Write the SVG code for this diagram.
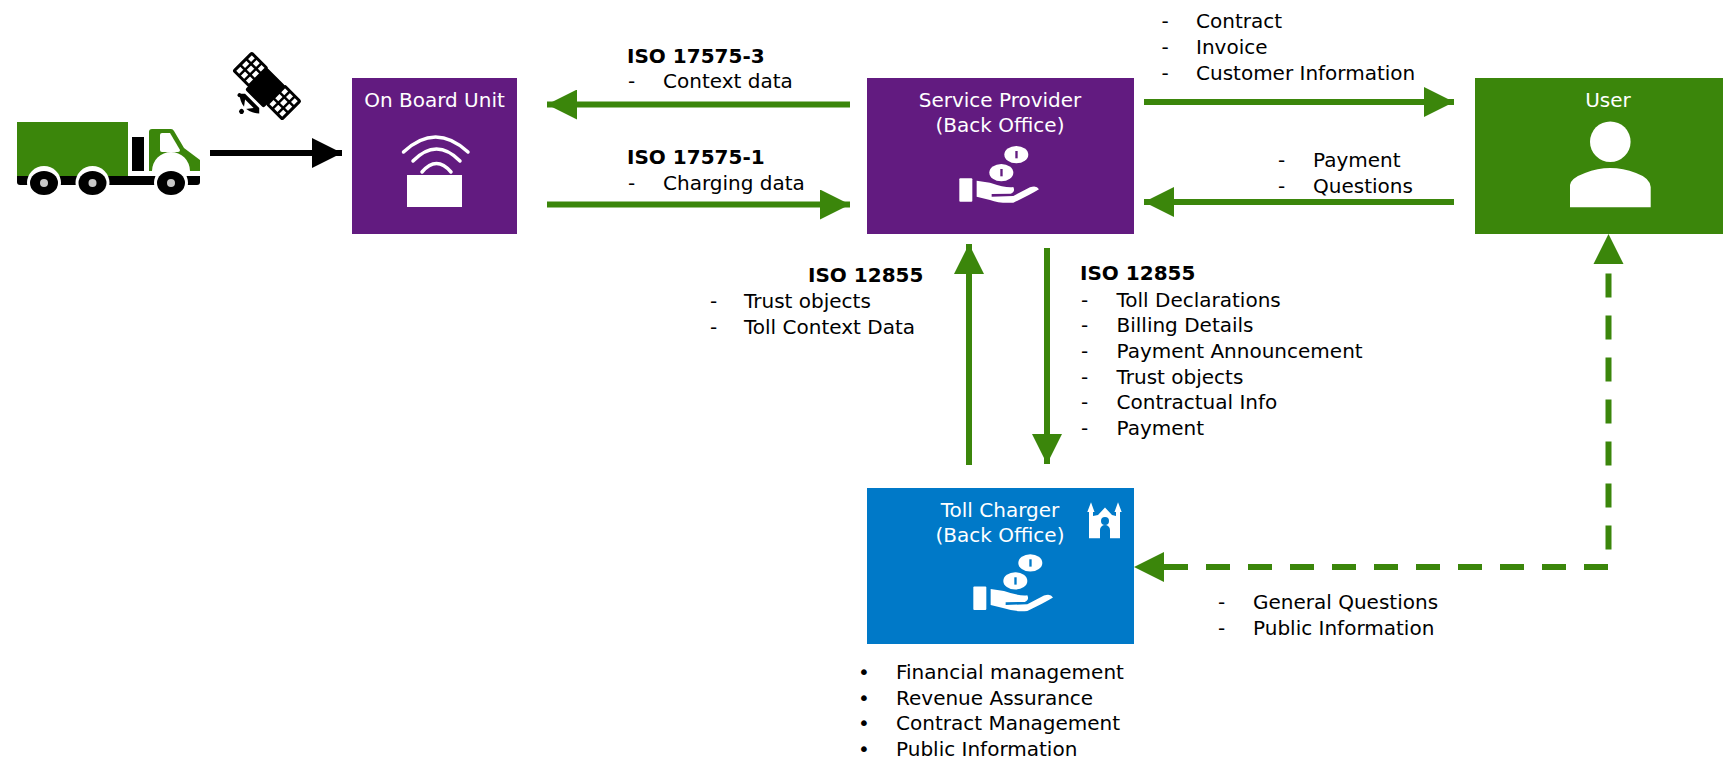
<svg xmlns="http://www.w3.org/2000/svg" width="1723" height="759" viewBox="0 0 1723 759">
<style>
text{font-family:"DejaVu Sans","Liberation Sans",sans-serif;font-size:20px;fill:#000}
.t{fill:#fff;text-anchor:middle}
.b{font-weight:bold}
.g{fill:none;stroke:#3b860b;stroke-width:6}
.w{fill:#fff}
.arc{fill:none;stroke:#fff;stroke-width:3.5;stroke-linecap:round}
</style>
<defs>
<marker id="ag" markerUnits="userSpaceOnUse" markerWidth="30" markerHeight="30" refX="30" refY="15" orient="auto"><path d="M0 0L30 15L0 30Z" fill="#3b860b"/></marker>
<marker id="ak" markerUnits="userSpaceOnUse" markerWidth="30" markerHeight="30" refX="30" refY="15" orient="auto"><path d="M0 0L30 15L0 30Z" fill="#000"/></marker>
<g id="hand">
<rect class="w" x="328" y="355" width="39" height="70" rx="3"/>
<path class="w" d="M380 362L420 368Q470 385 490 381Q497 395 482 401L425 402L425 410L490 408L540 382Q560 375 567 388Q540 405 490 428Q450 431 420 420L380 410Z"/>
<ellipse class="w" cx="499" cy="284" rx="36" ry="26"/>
<ellipse class="w" cx="454" cy="338" rx="36" ry="26"/>
<rect class="s" x="496" y="273" width="7" height="22"/>
<rect class="s" x="451" y="327" width="7" height="22"/>
</g>
</defs>
<g id="truck">
<rect x="17" y="122" width="111" height="54" fill="#3b860b"/>
<path d="M17 176H200V182Q200 185 197 185H20Q17 185 17 182Z" fill="#000"/>
<rect x="132" y="137" width="12" height="34" fill="#000"/>
<path d="M149 171V132Q149 129 152 129H171Q173 129 174 131L184 148L200 160V171H190A19 19 0 0 0 152 171Z" fill="#3b860b"/>
<path d="M160 135Q160 133 162 133H170L180 150Q180 152 178 152H162Q160 152 160 150Z" fill="#fff"/>
<circle cx="44" cy="183" r="17" fill="#fff"/><circle cx="92.500" cy="183" r="17" fill="#fff"/><circle cx="171" cy="183" r="17" fill="#fff"/>
<ellipse cx="44" cy="183" rx="14" ry="12" fill="#000"/><ellipse cx="92.500" cy="183" rx="14" ry="12" fill="#000"/><ellipse cx="171" cy="183" rx="14" ry="12" fill="#000"/>
<circle cx="44" cy="183" r="4" fill="#c8c8c8"/><circle cx="92.500" cy="183" r="4" fill="#c8c8c8"/><circle cx="171" cy="183" r="4" fill="#c8c8c8"/>
</g>
<g id="satellite" transform="translate(267 86) rotate(45)">
<rect x="-34" y="-12.500" width="21" height="25" rx="1" fill="#fff" stroke="#000" stroke-width="3"/>
<rect x="13" y="-12.500" width="21" height="25" rx="1" fill="#fff" stroke="#000" stroke-width="3"/>
<path d="M-34 -4.500H-13M-34 4H-13M-27 -12V12M-20 -12V12M13 -4.500H34M13 4H34M20 -12V12M27 -12V12" stroke="#000" stroke-width="2.500" fill="none"/>
<rect x="-13" y="-13" width="26" height="31" rx="2" fill="#000"/>
<path d="M-14 24Q0 36 14 24L10 20H-10Z" fill="#000" transform="translate(0 1)"/>
<path d="M-6 25L0 33L6 25Z" fill="#fff"/>
<circle cx="-13" cy="26" r="2" fill="#000"/><circle cx="0" cy="36" r="2.500" fill="#000"/>
</g>
<g id="connectors">
<path d="M210 153H342" fill="none" stroke="#000" stroke-width="6" marker-end="url(#ak)"/>
<path class="g" d="M850 104.500H547" marker-end="url(#ag)"/>
<path class="g" d="M547 204.500H850" marker-end="url(#ag)"/>
<path class="g" d="M1144 102H1454" marker-end="url(#ag)"/>
<path class="g" d="M1454 202H1144" marker-end="url(#ag)"/>
<path class="g" d="M969 465V244" marker-end="url(#ag)"/>
<path class="g" d="M1047 248V464" marker-end="url(#ag)"/>
<path d="M1164 567H1608.500V264" fill="none" stroke="#3b860b" stroke-width="6" stroke-dasharray="24 18" stroke-linejoin="round"/>
<path d="M1134 567L1164 552V582Z" fill="#3b860b"/>
<path d="M1608.500 234L1593.500 264H1623.500Z" fill="#3b860b"/>
</g>
<g id="obu">
<rect x="352" y="78" width="165" height="156" fill="#621b80"/>
<text class="t" x="434.500" y="107">On Board Unit</text>
<path class="arc" d="M403.500 152Q435.500 122 468 152"/>
<path class="arc" d="M413 161Q436.500 137 460 161"/>
<path class="arc" d="M422 172Q436.500 155 451 172"/>
<rect class="w" x="407" y="175" width="55" height="32"/>
</g>
<g id="service-provider">
<rect x="867" y="78" width="267" height="156" fill="#621b80"/>
<text class="t" x="1000" y="106.700">Service Provider</text>
<text class="t" x="1000" y="131.700">(Back Office)</text>
<use href="#hand" transform="translate(850 60) scale(.3333)" style="fill:#621b80" fill="#621b80"/>
</g>
<g id="user">
<rect x="1475" y="78" width="248" height="156" fill="#3b860b"/>
<text class="t" x="1608" y="106.700">User</text>
<circle class="w" cx="1610.300" cy="141.700" r="20.300"/>
<path class="w" d="M1570 207.300V185Q1571 178 1585 173Q1610 163 1636 173Q1650 178 1650.700 187V207.300Z"/>
</g>
<g id="toll-charger">
<rect x="867" y="488" width="267" height="156" fill="#0079c8"/>
<text class="t" x="1000" y="516.700">Toll Charger</text>
<text class="t" x="1000" y="541.700">(Back Office)</text>
<use href="#hand" transform="translate(864 468.300) scale(.3333)" fill="#0079c8"/>
<path class="w" d="M1089 538.300V512H1087.300L1091 502.300L1094.500 512H1093V516L1098 515L1105 507.500L1112 515L1116 516V512H1114.500L1118 502.300L1121.700 512H1120V538.300H1110V530A5 5 0 0 0 1100 530V538.300Z"/>
<circle cx="1105" cy="521" r="4" fill="#0079c8"/>
</g>
<g id="labels">
<text class="b" x="627" y="62.600">ISO 17575-3</text>
<text x="628" y="88">-</text><text x="663" y="88">Context data</text>
<text class="b" x="627" y="163.700">ISO 17575-1</text>
<text x="628" y="190">-</text><text x="663" y="190">Charging data</text>
<text x="1161.600" y="27.500">-</text><text x="1196" y="27.500">Contract</text>
<text x="1161.600" y="53.500">-</text><text x="1196" y="53.500">Invoice</text>
<text x="1161.600" y="79.500">-</text><text x="1196" y="79.500">Customer Information</text>
<text x="1278" y="167">-</text><text x="1313" y="167">Payment</text>
<text x="1278" y="192.500">-</text><text x="1313" y="192.500">Questions</text>
<text class="b" x="808" y="282">ISO 12855</text>
<text x="710" y="308">-</text><text x="744" y="308">Trust objects</text>
<text x="710" y="333.500">-</text><text x="744" y="333.500">Toll Context Data</text>
<text class="b" x="1080" y="280">ISO 12855</text>
<text x="1081" y="306.500">-</text><text x="1116.500" y="306.500">Toll Declarations</text>
<text x="1081" y="332">-</text><text x="1116.500" y="332">Billing Details</text>
<text x="1081" y="357.500">-</text><text x="1116.500" y="357.500">Payment Announcement</text>
<text x="1081" y="383.500">-</text><text x="1116.500" y="383.500">Trust objects</text>
<text x="1081" y="409">-</text><text x="1116.500" y="409">Contractual Info</text>
<text x="1081" y="434.500">-</text><text x="1116.500" y="434.500">Payment</text>
<text x="1218" y="609">-</text><text x="1253" y="609">General Questions</text>
<text x="1218" y="635">-</text><text x="1253" y="635">Public Information</text>
<text x="858" y="679">•</text><text x="896" y="679">Financial management</text>
<text x="858" y="704.500">•</text><text x="896" y="704.500">Revenue Assurance</text>
<text x="858" y="730">•</text><text x="896" y="730">Contract Management</text>
<text x="858" y="755.500">•</text><text x="896" y="755.500">Public Information</text>
</g>
</svg>
